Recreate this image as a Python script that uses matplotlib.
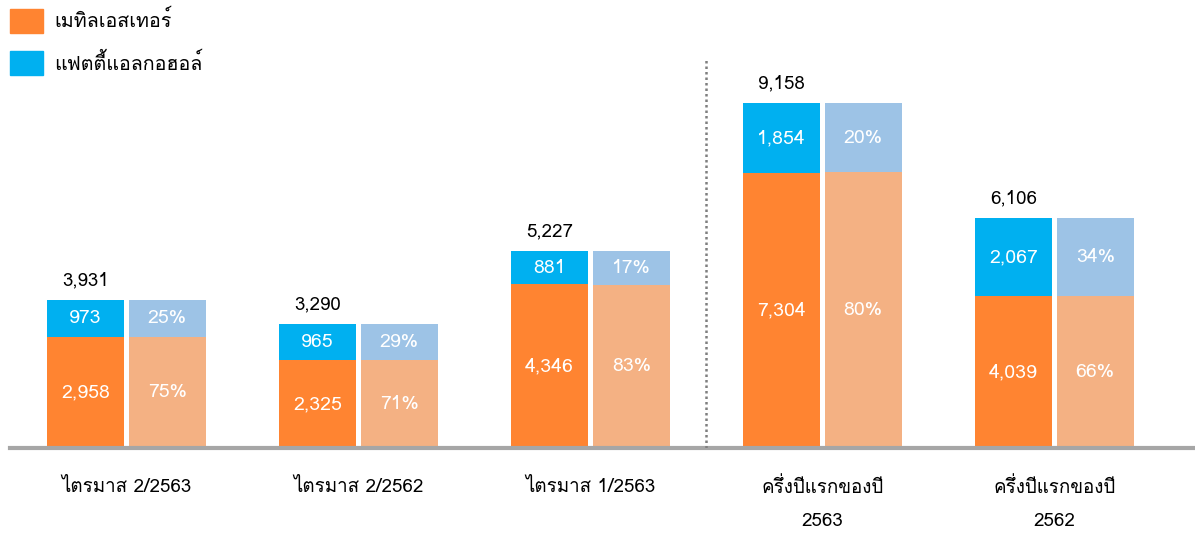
import numpy as np
import matplotlib
matplotlib.use('Agg')
import matplotlib.pyplot as plt
from matplotlib.patches import Patch
from matplotlib import font_manager
from matplotlib.ft2font import FT2Font

# หา font ที่มีอักษรไทย
thai_font = None
for f in font_manager.fontManager.ttflist:
    try:
        if 0x0E21 in FT2Font(f.fname).get_charmap():
            thai_font = f.name
            break
    except Exception:
        pass
fams = ['DejaVu Sans'] if thai_font is None else [thai_font, 'DejaVu Sans']
plt.rcParams['font.family'] = fams

# ข้อมูล
groups = ['ไตรมาส 2/2563', 'ไตรมาส 2/2562', 'ไตรมาส 1/2563',
          'ครึ่งปีแรกของปี', 'ครึ่งปีแรกของปี']
years = ['', '', '', '2563', '2562']
methyl = [2958, 2325, 4346, 7304, 4039]
fatty = [973, 965, 881, 1854, 2067]
totals = [3931, 3290, 5227, 9158, 6106]
methyl_pct = [75, 71, 83, 80, 66]
fatty_pct = [25, 29, 17, 20, 34]

c_orange = '#FF8431'
c_blue = '#00B0F0'
c_orange_l = '#F4B183'
c_blue_l = '#9DC3E6'

fig = plt.figure(figsize=(11.95, 5.33), dpi=100)
ax = fig.add_axes([0, 85/533, 1, 448/533])

x = np.arange(len(groups))
w = 0.332
off = 0.176
tot = np.array(totals, dtype=float)
mp = tot * np.array(methyl_pct) / 100
fp = tot * np.array(fatty_pct) / 100

ax.bar(x - off, methyl, w, color=c_orange)
ax.bar(x - off, fatty, w, bottom=methyl, color=c_blue)
ax.bar(x + off, mp, w, color=c_orange_l)
ax.bar(x + off, fp, w, bottom=mp, color=c_blue_l)

fs = 13.5
fsi = 14  # ตัวเลขในแท่ง
k = 0.03765  # px ต่อหน่วย
for i in range(len(groups)):
    ax.text(x[i] - off, methyl[i] / 2, f'{methyl[i]:,}', ha='center', va='center',
            color='white', fontsize=fsi)
    ax.text(x[i] - off, methyl[i] + fatty[i] / 2, f'{fatty[i]:,}', ha='center',
            va='center', color='white', fontsize=fsi)
    ax.text(x[i] + off, mp[i] / 2, f'{methyl_pct[i]}%', ha='center', va='center',
            color='white', fontsize=fsi)
    ax.text(x[i] + off, mp[i] + fp[i] / 2, f'{fatty_pct[i]}%', ha='center',
            va='center', color='white', fontsize=fsi)
    ax.annotate(f'{totals[i]:,}', (x[i] - off, totals[i]), xytext=(0, 14),
                textcoords='offset points', ha='center', va='center',
                color='black', fontsize=fs)
    ax.text(x[i], -39 / k, groups[i], ha='center', va='center', fontsize=fs,
            clip_on=False)
    if years[i]:
        ax.text(x[i], -73 / k, years[i], ha='center', va='center', fontsize=fs,
                clip_on=False)

ax.set_xlim(-0.545, 4.606)
ax.set_ylim(0, 448 / k)
ax.axhline(0, xmin=10/1195, xmax=1, color='#A6A6A6', lw=3, clip_on=False)
ax.plot([2.5, 2.5], [0, 388 / k], color='#7F7F7F', lw=1.8, ls=(0, (1, 1.2)))
ax.axis('off')

leg = fig.legend(handles=[Patch(color=c_orange, label='เมทิลเอสเทอร์'),
                          Patch(color=c_blue, label='แฟตตี้แอลกอฮอล์')],
                 loc='upper left', bbox_to_anchor=(0.002, 0.998), frameon=False,
                 fontsize=14.2, handlelength=1.68, handleheight=1.46,
                 handletextpad=0.55, labelspacing=0.95, borderaxespad=0.0)

fig.savefig('out.png', dpi=100)
